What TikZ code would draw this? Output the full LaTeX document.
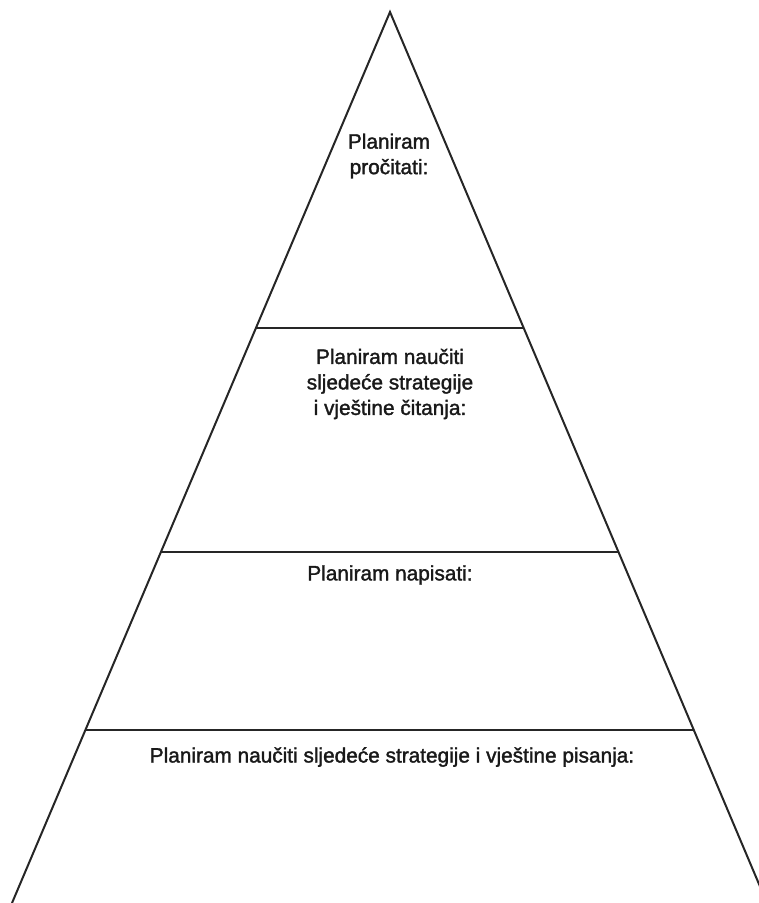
\documentclass[tikz,border=0pt]{standalone}
\usepackage{fontspec}
\setmainfont[FakeBold=1.6]{Liberation Sans}
\usetikzlibrary{calc}
\begin{document}
\begin{tikzpicture}[x=1pt,y=1pt,
  edge/.style={line width=2pt,black!85},
  label/.style={font=\fontsize{20.8}{25.5}\selectfont,align=center,text=black!90,inner sep=0pt}]
\useasboundingbox (0,0) rectangle (759,-903);
\clip (0,0) rectangle (759,-903);
\coordinate (A) at (390,-12);
\coordinate (BL) at (12,-903);
\coordinate (BR) at (767,-903);
\draw[edge,line join=miter] (BL) -- (A) -- (BR);
\coordinate (L1) at ($(A)!0.3547!(BL)$);
\coordinate (R1) at ($(A)!0.3547!(BR)$);
\coordinate (L2) at ($(A)!0.6061!(BL)$);
\coordinate (R2) at ($(A)!0.6061!(BR)$);
\coordinate (L3) at ($(A)!0.8058!(BL)$);
\coordinate (R3) at ($(A)!0.8058!(BR)$);
\draw[edge] (L1) -- (R1);
\draw[edge] (L2) -- (R2);
\draw[edge] (L3) -- (R3);
\node[label] (t1) at (389,-156) {Planiram\\pročitati:};
\node[label] (t2) at (390,-384) {Planiram naučiti\\sljedeće strategije\\i vještine čitanja:};
\node[label] (t3) at (390,-575) {Planiram napisati:};
\node[label] (t4) at (392,-757) {Planiram naučiti sljedeće strategije i vještine pisanja:};
\end{tikzpicture}
\end{document}
